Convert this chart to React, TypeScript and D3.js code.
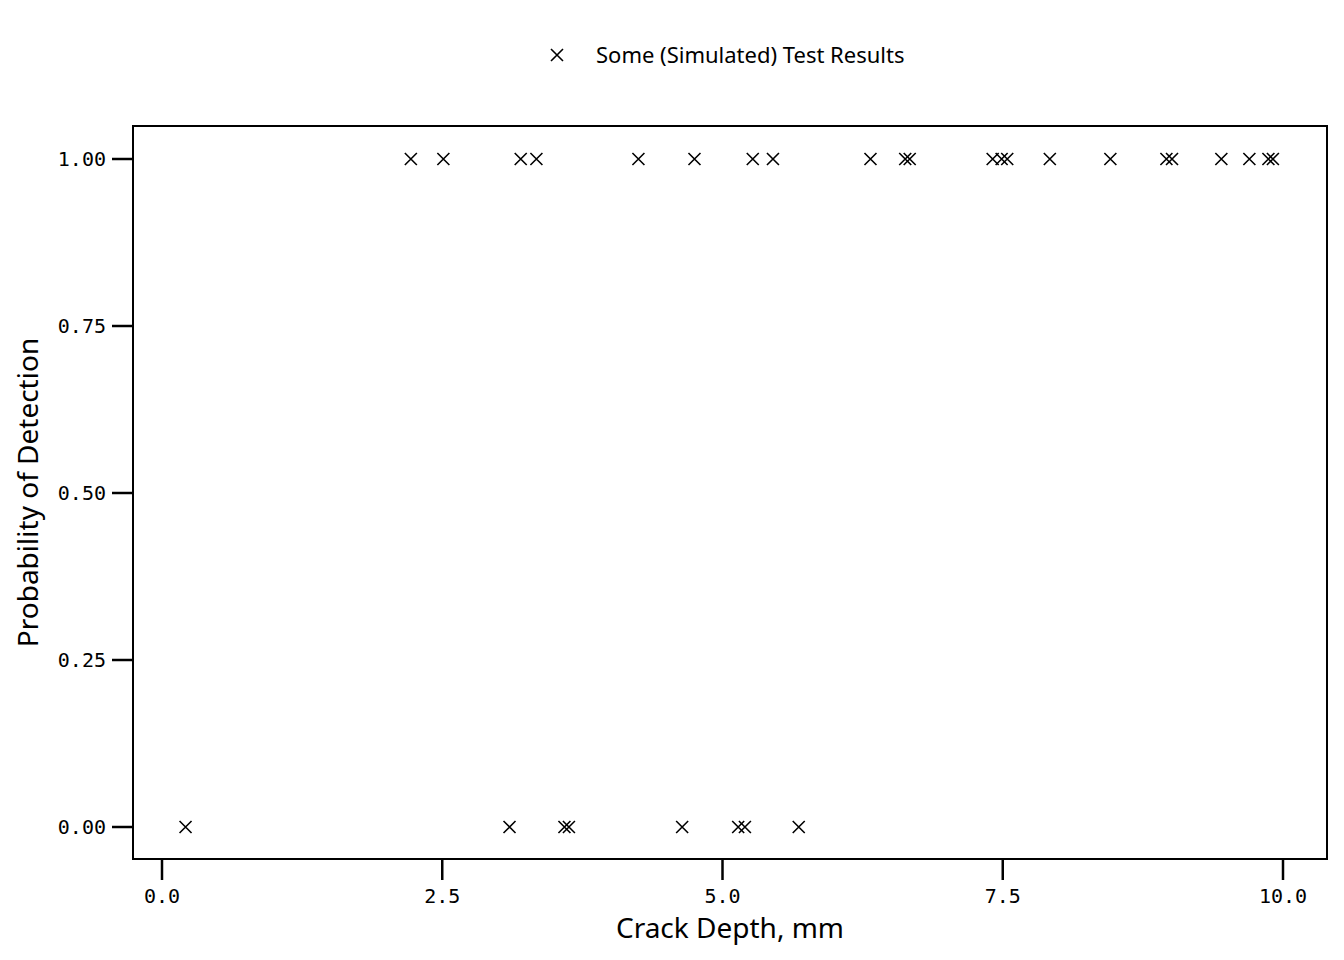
import React from "react";
import * as d3 from "d3";

const detectedX = [2.22, 2.51, 3.2, 3.34, 4.25, 4.75, 5.27, 5.45, 6.32, 6.63, 6.67, 7.41, 7.49, 7.54, 7.92, 8.46, 8.96, 9.01, 9.45, 9.7, 9.87, 9.91];
const missedX = [0.21, 3.1, 3.59, 3.63, 4.64, 5.14, 5.2, 5.68];
const xTicks = [0, 2.5, 5, 7.5, 10];
const yTicks = [0, 0.25, 0.5, 0.75, 1];

export default function App() {
  const W = 1344, H = 960;
  const L = 133, R = 1327, T = 126, B = 859;
  const x = d3.scaleLinear().domain([0, 10]).range([162, 1283]);
  const y = d3.scaleLinear().domain([0, 1]).range([827, 159]);
  const pts = [...detectedX.map(v => [v, 1]), ...missedX.map(v => [v, 0])];
  const cross = (cx: number, cy: number, k: number, s = 6) => (
    <path key={k} d={`M${cx - s},${cy - s}L${cx + s},${cy + s}M${cx - s},${cy + s}L${cx + s},${cy - s}`} stroke="#000" strokeWidth={1.6} fill="none" />
  );
  return (
    <svg width={W} height={H} style={{ position: "absolute", left: 0, top: 0 }} fontFamily="Noto Sans, sans-serif">
      <rect x={L} y={T} width={R - L} height={B - T} fill="none" stroke="#000" strokeWidth={2} />
      {yTicks.map(t => (
        <g key={t}>
          <line x1={112} x2={L} y1={y(t)} y2={y(t)} stroke="#000" strokeWidth={2.5} />
          <text x={106} y={y(t)} dy="0.35em" textAnchor="end" fontSize={20} fontFamily="DejaVu Sans Mono">{t.toFixed(2)}</text>
        </g>
      ))}
      {xTicks.map(t => (
        <g key={t}>
          <line x1={x(t)} x2={x(t)} y1={B} y2={880} stroke="#000" strokeWidth={2.5} />
          <text x={x(t)} y={903} textAnchor="middle" fontSize={20} fontFamily="DejaVu Sans Mono">{t.toFixed(1)}</text>
        </g>
      ))}
      {pts.map((p, i) => cross(x(p[0]), y(p[1]), i))}
      <text x={730} y={938} textAnchor="middle" fontSize={28}>Crack Depth, mm</text>
      <text transform={`translate(38,${(T + B) / 2}) rotate(-90)`} textAnchor="middle" fontSize={28}>Probability of Detection</text>
      {cross(557, 55, -1)}
      <text x={596} y={63} fontSize={22}>Some (Simulated) Test Results</text>
    </svg>
  );
}
